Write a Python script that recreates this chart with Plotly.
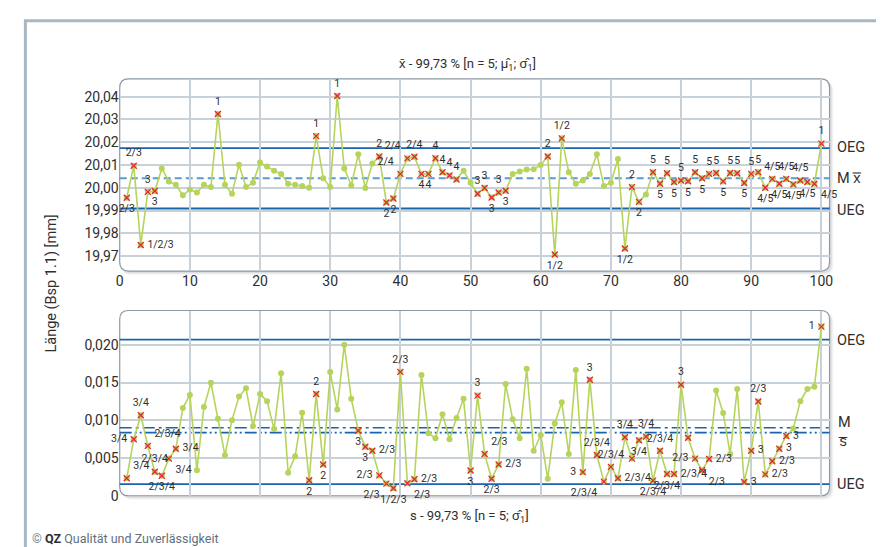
import plotly.graph_objects as go

# ---------------- data ----------------
subgroups = list(range(1, 101))

xbar_values = [
    19.9956, 20.0097, 19.9749, 19.9982, 19.9986, 20.0085, 20.0028, 20.0013, 19.9967, 19.9992,
    19.9979, 20.0013, 20.0003, 20.0324, 20.0013, 19.9974, 20.0101, 20.0003, 20.0022, 20.0111,
    20.0093, 20.0075, 20.0061, 20.0018, 20.0013, 20.0008, 20.0000, 20.0227, 20.0042, 20.0003,
    20.0403, 20.0085, 20.0010, 20.0147, 19.9999, 20.0107, 20.0137, 19.9935, 19.9953, 20.0061,
    20.0129, 20.0136, 20.0061, 20.0061, 20.0130, 20.0068, 20.0054, 20.0036, 20.0075, 20.0022,
    19.9974, 19.9999, 19.9957, 19.9979, 19.9987, 20.0061, 20.0072, 20.0080, 20.0081, 20.0100,
    20.0137, 19.9707, 20.0217, 20.0068, 20.0018, 20.0032, 20.0061, 20.0147, 20.0008, 20.0022,
    20.0126, 19.9733, 20.0003, 19.9938, 19.9971, 20.0068, 20.0018, 20.0064, 20.0025, 20.0032,
    20.0029, 20.0068, 20.0042, 20.0061, 20.0065, 20.0028, 20.0065, 20.0064, 20.0021, 20.0061,
    20.0068, 20.0000, 20.0039, 20.0018, 20.0039, 20.0015, 20.0032, 20.0025, 20.0018, 20.0194,
]

s_values = [
    0.00231, 0.00748, 0.01066, 0.00661, 0.00318, 0.00265, 0.00492, 0.00622, 0.01162, 0.01336,
    0.00339, 0.01175, 0.01497, 0.01020, 0.00535, 0.01001, 0.01314, 0.01423, 0.00923, 0.01349,
    0.01253, 0.00883, 0.01623, 0.00305, 0.00522, 0.01101, 0.00205, 0.01349, 0.00413, 0.01641,
    0.01144, 0.02002, 0.01284, 0.00862, 0.00650, 0.00596, 0.00270, 0.00161, 0.00100, 0.01641,
    0.00165, 0.00218, 0.01601, 0.00827, 0.00762, 0.01079, 0.00748, 0.01031, 0.01284, 0.00335,
    0.01327, 0.00553, 0.00226, 0.00413, 0.01480, 0.01014, 0.00762, 0.01684, 0.00596, 0.00805,
    0.00226, 0.00957, 0.01240, 0.00553, 0.01667, 0.00313, 0.01536, 0.00540, 0.00187, 0.00383,
    0.00231, 0.00775, 0.00492, 0.00735, 0.00783, 0.00200, 0.00596, 0.00288, 0.00288, 0.01471,
    0.00768, 0.00492, 0.00339, 0.00487, 0.01393, 0.01097, 0.00553, 0.01414, 0.00183, 0.00596,
    0.01249, 0.00283, 0.00457, 0.00622, 0.00792, 0.00892, 0.01253, 0.01414, 0.01445, 0.02241,
]

# violated test rules per subgroup ("" = flagged, no visible label)
xbar_tests = {
    1: "2/3", 2: "2/3", 3: "1/2/3", 4: "3", 5: "3", 14: "1", 28: "1", 31: "1",
    37: "2", 38: "2", 39: "2", 40: "2/4", 41: "2/4", 42: "2/4", 43: "4", 44: "4",
    45: "4", 46: "4", 47: "4", 48: "4", 51: "3", 52: "3", 53: "3", 54: "3", 55: "3",
    61: "2", 62: "1/2", 63: "1/2", 72: "1/2", 73: "2", 74: "2",
    76: "5", 77: "5", 78: "5", 79: "5", 80: "5", 81: "5", 82: "5", 83: "5", 84: "5",
    85: "5", 86: "5", 87: "5", 88: "5", 89: "5", 90: "5", 91: "5",
    92: "4/5", 93: "4/5", 94: "4/5", 95: "4/5", 96: "4/5", 97: "4/5", 98: "4/5", 99: "4/5",
    100: "1",
}
s_tests = {
    1: "3/4", 2: "3/4", 3: "3/4", 4: "2/3/4", 5: "2/3/4", 6: "2/3/4", 7: "3/4", 8: "3/4",
    27: "2", 28: "2", 29: "2", 34: "3", 35: "3", 36: "2/3", 37: "2/3", 38: "2/3",
    39: "1/2/3", 40: "2/3", 41: "2/3", 42: "2/3", 50: "3", 51: "3", 52: "2/3", 53: "2/3",
    54: "2/3", 66: "3", 67: "3", 68: "2/3/4", 69: "2/3/4", 70: "2/3/4", 71: "2/3/4",
    72: "3/4", 73: "", 74: "3/4", 75: "3/4", 76: "2/3/4", 77: "2/3/4", 78: "2/3/4",
    79: "2/3/4", 80: "3", 81: "", 82: "2/3", 83: "2/3", 84: "2/3", 89: "3", 90: "3",
    91: "2/3", 92: "2/3", 93: "2/3", 94: "3", 95: "3", 100: "1",
}

xbar_oeg, xbar_mean, xbar_ueg = 20.0174, 20.0042, 19.9909
s_oeg, s_m, s_bar, s_ueg = 0.02067, 0.00901, 0.00836, 0.00153

xbar_ticks = [19.97, 19.98, 19.99, 20.00, 20.01, 20.02, 20.03, 20.04]
xbar_ticktext = ["19,97", "19,98", "19,99", "20,00", "20,01", "20,02", "20,03", "20,04"]
s_ticks = [0, 0.005, 0.010, 0.015, 0.020]
s_ticktext = ["0", "0,005", "0,010", "0,015", "0,020"]
x_ticks = list(range(0, 101, 10))

# ---------------- label placement (style) ----------------
xbar_pos = {1: "bottom center", 3: "middle right", 5: "bottom center", 38: "bottom center",
            39: "bottom center", 40: "top left", 41: "top left",
            43: "bottom center", 44: "bottom center",
            53: "bottom center", 55: "bottom center", 62: "bottom center", 72: "bottom center",
            74: "bottom center", 77: "bottom center", 79: "bottom center", 81: "bottom center",
            83: "bottom center", 86: "bottom center", 89: "bottom center", 92: "bottom center",
            94: "bottom center", 96: "bottom center", 98: "bottom center", 99: "bottom right"}
s_pos = {1: "top right", 2: "middle left", 4: "top right", 6: "bottom center", 7: "bottom right",
         8: "middle right", 27: "bottom center", 29: "bottom center", 34: "bottom center",
         35: "bottom center", 36: "middle right", 37: "middle left", 38: "bottom left",
         39: "bottom center", 41: "bottom right", 42: "middle right", 50: "bottom center",
         52: "top right", 53: "bottom center", 54: "middle right", 66: "middle left",
         69: "bottom left", 71: "middle right", 74: "bottom center", 76: "bottom center",
         78: "bottom center", 79: "middle right", 82: "middle left", 83: "bottom right",
         84: "middle right", 89: "middle right", 90: "middle right", 92: "middle right",
         93: "middle right", 94: "middle right", 95: "middle right", 100: "middle left"}

# ---------------- layout geometry ----------------
W, H = 884, 547
FONT = "Roboto, 'Liberation Sans', sans-serif"
LINE_GREEN = "#b6d45c"
RED = "#e3273a"
BLUE = "#1a64ad"
GRID = "#c9d1d8"
TXT = "#2e2e2e"

px0, px1 = 108.7, 825.0
top_y0, top_y1 = 72.0, 267.0
bot_y0, bot_y1 = 307.0, 495.0


def PX(v):
    return v / W


def PY(v):
    return 1 - v / H


def rbox(x0, y0, x1, y1, r):
    return (f"M {PX(x0 + r)},{PY(y0)} L {PX(x1 - r)},{PY(y0)} "
            f"Q {PX(x1)},{PY(y0)} {PX(x1)},{PY(y0 + r)} L {PX(x1)},{PY(y1 - r)} "
            f"Q {PX(x1)},{PY(y1)} {PX(x1 - r)},{PY(y1)} L {PX(x0 + r)},{PY(y1)} "
            f"Q {PX(x0)},{PY(y1)} {PX(x0)},{PY(y1 - r)} L {PX(x0)},{PY(y0 + r)} "
            f"Q {PX(x0)},{PY(y0)} {PX(x0 + r)},{PY(y0)} Z")


fig = go.Figure()

# main series
for vals, xa, ya in [(xbar_values, "x", "y"), (s_values, "x2", "y2")]:
    fig.add_trace(go.Scatter(x=subgroups, y=vals, mode="lines+markers",
                             line=dict(color=LINE_GREEN, width=1.6),
                             marker=dict(color=LINE_GREEN, size=6),
                             xaxis=xa, yaxis=ya, hoverinfo="skip"))

# flagged points + test labels
for tests, vals, pos, xa, ya in [(xbar_tests, xbar_values, xbar_pos, "x", "y"),
                                  (s_tests, s_values, s_pos, "x2", "y2")]:
    pts = sorted(tests)
    fig.add_trace(go.Scatter(
        x=pts, y=[vals[p - 1] for p in pts], mode="markers",
        marker=dict(symbol="x-thin", size=6, color=RED, line=dict(color=RED, width=1.3)),
        xaxis=xa, yaxis=ya, hoverinfo="skip", cliponaxis=False))
    lp = [p for p in pts if tests[p]]
    fig.add_trace(go.Scatter(
        x=lp, y=[vals[p - 1] for p in lp], mode="markers+text",
        text=[tests[p] for p in lp],
        textposition=[pos.get(p, "top center") for p in lp],
        textfont=dict(family=FONT, size=10.5, color=TXT),
        marker=dict(size=9, color="rgba(0,0,0,0)"),
        xaxis=xa, yaxis=ya, hoverinfo="skip", cliponaxis=False))

shapes = []
# outer frame
shapes.append(dict(type="rect", xref="paper", yref="paper", x0=PX(13.5), x1=PX(878.5),
                   y0=PY(560), y1=PY(13), line=dict(color="#a9b7c2", width=3), layer="below"))
# plot boxes with shadow
for (y0, y1) in [(top_y0, top_y1), (bot_y0, bot_y1)]:
    for k, a in [(4, 0.05), (3, 0.06), (2, 0.08)]:
        shapes.append(dict(type="path", xref="paper", yref="paper",
                           path=rbox(px0 + k - 1, y0 + k - 1, px1 + k, y1 + k, 9),
                           fillcolor=f"rgba(60,70,80,{a})", line=dict(width=0), layer="below"))
    shapes.append(dict(type="path", xref="paper", yref="paper",
                       path=rbox(px0, y0, px1, y1, 9), fillcolor="white",
                       line=dict(color="#8d99a3", width=1.2), layer="below"))


# control lines
def hline(yref, y, color, width, dash):
    shapes.append(dict(type="line", xref="paper", yref=yref, x0=PX(px0), x1=PX(px1),
                       y0=y, y1=y, line=dict(color=color, width=width, dash=dash), layer="between"))


hline("y", xbar_oeg, BLUE, 1.8, "solid")
hline("y", xbar_ueg, BLUE, 1.8, "solid")
hline("y", xbar_mean, "#5a9bd4", 2, "7px,4px")
hline("y2", s_oeg, BLUE, 1.8, "solid")
hline("y2", s_ueg, BLUE, 1.8, "solid")
hline("y2", s_m, BLUE, 1.6, "12px,4px,3px,4px")
hline("y2", s_bar, BLUE, 1.6, "12px,3px,2px,3px,2px,3px")

ann = []


def label(x, y, text, size=15, xanchor="left", color=TXT, **kw):
    ann.append(dict(x=PX(x), y=PY(y), xref="paper", yref="paper", text=text, showarrow=False,
                    xanchor=xanchor, yanchor="middle", font=dict(family=FONT, size=size, color=color), **kw))


label(831, 142, "OEG", size=14.5)
label(831, 173, "M x\u033f", size=14.5)
label(831, 205, "UEG", size=14.5)
label(831, 337, "OEG", size=14.5)
label(832, 421, "M", size=14.5)
label(832, 440, "s\u0305", size=14.5)
label(831, 484, "UEG", size=14.5)
label(460, 57, "x\u0304 - 99,73 % [n = 5; \u03bc\u0302<sub>1</sub>; \u03c3\u0302<sub>1</sub>]", size=13, xanchor="center")
label(462, 516, "s - 99,73 % [n = 5; \u03c3\u0302<sub>1</sub>]", size=13, xanchor="center")
label(40, 280, "Länge (Bsp 1.1) [mm]", size=14.5, xanchor="center", textangle=-90)
label(18, 538, "<span style='color:#7a8893'>©</span> <b>QZ</b> <span style='color:#5f6f7c'>Qualität und Zuverlässigkeit</span>",
      size=12.5)

axis_common = dict(showline=False, zeroline=False, ticks="", gridcolor=GRID, gridwidth=1.5,
                   tickfont=dict(family=FONT, size=14, color=TXT))

fig.update_layout(
    width=W, height=H, margin=dict(l=0, r=0, t=0, b=0),
    paper_bgcolor="white", plot_bgcolor="rgba(0,0,0,0)", showlegend=False,
    shapes=shapes, annotations=ann,
    xaxis=dict(domain=[PX(px0), PX(px1)], range=[0, 101.16], tickvals=x_ticks,
               anchor="y", **axis_common),
    yaxis=dict(domain=[PY(top_y1), PY(top_y0)], range=[19.9634, 20.0478],
               tickvals=xbar_ticks, ticktext=xbar_ticktext, anchor="x", **axis_common),
    xaxis2=dict(domain=[PX(px0), PX(px1)], range=[0, 101.16], tickvals=x_ticks,
                showticklabels=False, anchor="y2", **axis_common),
    yaxis2=dict(domain=[PY(bot_y1), PY(bot_y0)], range=[0, 0.02454],
                tickvals=s_ticks, ticktext=s_ticktext, anchor="x2", **axis_common),
)

fig.write_html("out.html")
